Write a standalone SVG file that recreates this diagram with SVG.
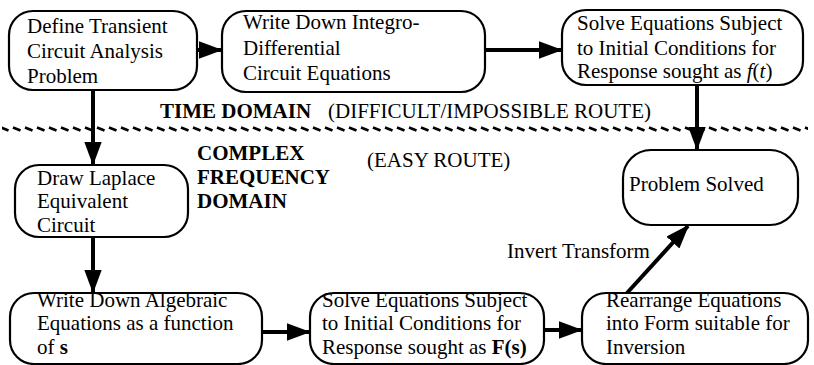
<svg xmlns="http://www.w3.org/2000/svg" width="814" height="365" viewBox="0 0 814 365">
<style>
.box{fill:#fff;stroke:#000;stroke-width:2.2}
.t{font-family:"Liberation Serif","Times New Roman",serif;font-size:21px;fill:#000}
.b{font-weight:bold}
.c{stroke:#000;stroke-width:4;fill:none}
</style>
<defs>
<marker id="ah" markerWidth="6" markerHeight="4.4" refX="5.6" refY="2.2" orient="auto" markerUnits="strokeWidth">
<path d="M0,0 L6,2.2 L0,4.4 z" fill="#000"/>
</marker>
<pattern id="dp" x="0" y="126" width="12" height="6" patternUnits="userSpaceOnUse">
<line x1="1" y1="1.5" x2="8.5" y2="4.5" stroke="#000" stroke-width="2.6"/>
</pattern>
</defs>
<rect width="814" height="365" fill="#fff"/>
<rect x="2" y="126" width="806" height="6" fill="url(#dp)"/>
<g id="n1"><rect class="box" x="9" y="11" width="188" height="79" rx="24"/>
<text class="t" x="27" y="33">Define Transient</text><text class="t" x="27" y="58">Circuit Analysis</text><text class="t" x="27" y="83">Problem</text></g>
<g id="n2"><rect class="box" x="222" y="11" width="263" height="81" rx="24"/>
<text class="t" x="243" y="29">Write Down Integro-</text><text class="t" x="243" y="55">Differential</text><text class="t" x="243" y="80">Circuit Equations</text></g>
<g id="n3"><rect class="box" x="562" y="10" width="241" height="75" rx="24"/>
<text class="t" x="577" y="30">Solve Equations Subject</text><text class="t" x="577" y="55">to Initial Conditions for</text><text class="t" x="577" y="78">Response sought as <tspan font-style="italic">f</tspan>(<tspan font-style="italic">t</tspan>)</text></g>
<g id="n4"><rect class="box" x="15" y="165" width="173" height="72" rx="24"/>
<text class="t" x="37" y="185">Draw Laplace</text><text class="t" x="37" y="208">Equivalent</text><text class="t" x="37" y="232">Circuit</text></g>
<g id="n5"><rect class="box" x="623" y="150" width="175" height="75" rx="28"/>
<text class="t" x="629" y="191">Problem Solved</text></g>
<g id="n6"><rect class="box" x="10" y="293" width="252" height="71" rx="24"/>
<text class="t" x="37" y="307">Write Down Algebraic</text><text class="t" x="37" y="330">Equations as a function</text><text class="t" x="37" y="354">of <tspan class="b">s</tspan></text></g>
<g id="n7"><rect class="box" x="310" y="293" width="234" height="71" rx="24"/>
<text class="t" x="322" y="307">Solve Equations Subject</text><text class="t" x="322" y="330">to Initial Conditions for</text><text class="t" x="322" y="354">Response sought as <tspan class="b">F(s)</tspan></text></g>
<g id="n8"><rect class="box" x="582" y="293" width="226" height="71" rx="24"/>
<text class="t" x="606" y="307">Rearrange Equations</text><text class="t" x="606" y="330">into Form suitable for</text><text class="t" x="606" y="354">Inversion</text></g>
<g id="labels">
<text class="t b" x="160" y="118">TIME DOMAIN</text>
<text class="t" x="328" y="118" font-size="20">(DIFFICULT/IMPOSSIBLE ROUTE)</text>
<text class="t b" x="197" y="160">COMPLEX</text>
<text class="t b" x="197" y="184">FREQUENCY</text>
<text class="t b" x="197" y="208">DOMAIN</text>
<text class="t" x="367" y="167">(EASY ROUTE)</text>
<text class="t" x="507" y="258">Invert Transform</text>
</g>
<g id="connectors">
<line class="c" x1="197" y1="50" x2="221" y2="50" marker-end="url(#ah)"/>
<line class="c" x1="485" y1="50" x2="561" y2="50" marker-end="url(#ah)"/>
<line class="c" x1="93" y1="90" x2="93" y2="164" marker-end="url(#ah)"/>
<line class="c" x1="697" y1="85" x2="697" y2="149" marker-end="url(#ah)"/>
<line class="c" x1="93" y1="237" x2="93" y2="292" marker-end="url(#ah)"/>
<line class="c" x1="262" y1="332" x2="309" y2="332" marker-end="url(#ah)"/>
<line class="c" x1="544" y1="330" x2="581" y2="330" marker-end="url(#ah)"/>
<line class="c" x1="627" y1="293" x2="688" y2="226" stroke-width="5" marker-end="url(#ah)"/>
</g>
</svg>
